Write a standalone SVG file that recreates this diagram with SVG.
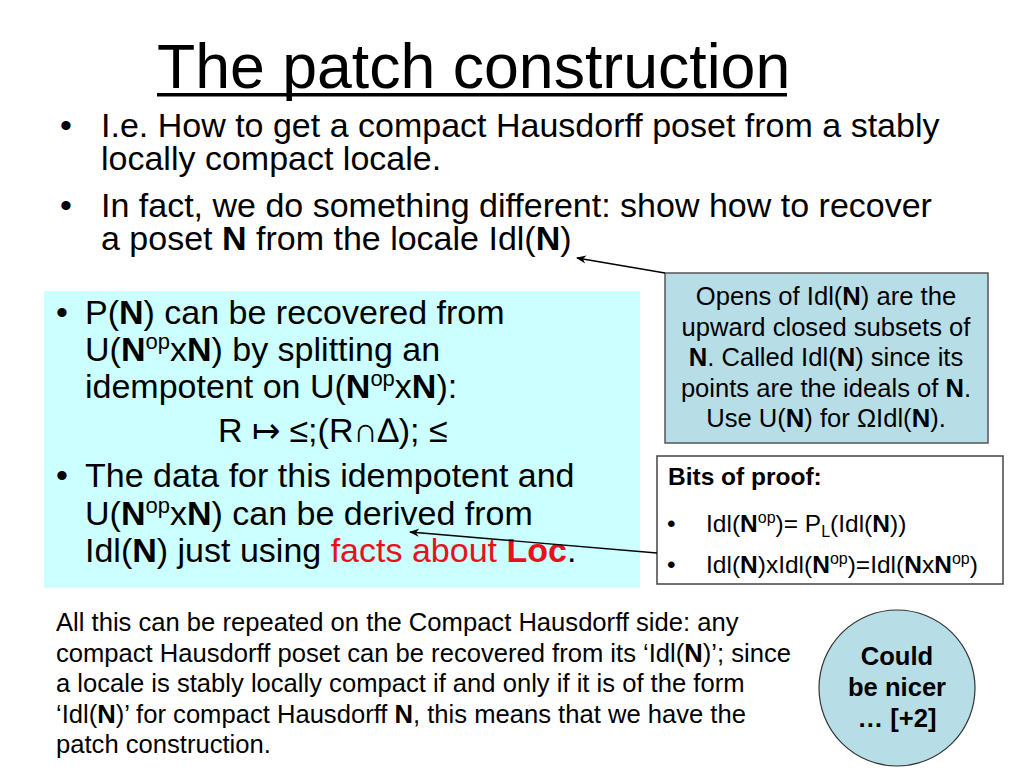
<svg xmlns="http://www.w3.org/2000/svg" width="1024" height="768" viewBox="0 0 1024 768">
<defs>
<style>
text{font-family:"Liberation Sans",Arial,sans-serif;fill:#000}
.title{font-size:62.6px}
.body{font-size:34px}
.sm{font-size:25.6px}
.bp{font-size:24.5px}
.b{font-weight:bold}
.red{fill:#E8101A}
.conn{stroke:#000;stroke-width:1.3;fill:none;marker-end:url(#arr)}
</style>
<marker id="arr" viewBox="0 0 10 10" refX="9" refY="5" markerWidth="10" markerHeight="10" markerUnits="userSpaceOnUse" orient="auto">
<path d="M0,1 L10,5 L0,9 L3,5 Z" fill="#000"/>
</marker>
</defs>
<rect width="1024" height="768" fill="#fff"/>

<g id="title">
<text class="title" x="157" y="88">The patch construction</text>
<rect x="157" y="93" width="630" height="3.5" fill="#000"/>
</g>

<g id="intro-bullets">
<text class="body" x="60" y="137">•</text>
<text class="body" x="101" y="137">I.e. How to get a compact Hausdorff poset from a stably</text>
<text class="body" x="101" y="170">locally compact locale.</text>
<text class="body" x="60" y="217">•</text>
<text class="body" x="101" y="217">In fact, we do something different: show how to recover</text>
<text class="body" x="101" y="250">a poset <tspan class="b">N</tspan> from the locale Idl(<tspan class="b">N</tspan>)</text>
</g>

<g id="cyan-box">
<rect x="44" y="291" width="596" height="297" fill="#CCFFFF"/>
<text class="body" x="56" y="324">•</text>
<text class="body" x="85" y="324">P(<tspan class="b">N</tspan>) can be recovered from</text>
<text class="body" x="85" y="361">U(<tspan class="b">N</tspan><tspan font-size="22" dy="-12">op</tspan><tspan dy="12">x</tspan><tspan class="b">N</tspan>) by splitting an</text>
<text class="body" x="85" y="398">idempotent on U(<tspan class="b">N</tspan><tspan font-size="22" dy="-12">op</tspan><tspan dy="12">x</tspan><tspan class="b">N</tspan>):</text>
<text class="body" x="218" y="442">R ↦ ≤;(R∩∆); ≤</text>
<text class="body" x="56" y="487">•</text>
<text class="body" x="85" y="487">The data for this idempotent and</text>
<text class="body" x="85" y="525">U(<tspan class="b">N</tspan><tspan font-size="22" dy="-12">op</tspan><tspan dy="12">x</tspan><tspan class="b">N</tspan>) can be derived from</text>
<text class="body" x="85" y="562">Idl(<tspan class="b">N</tspan>) just using <tspan class="red">facts about </tspan><tspan class="red b">Loc</tspan>.</text>
</g>

<g id="opens-box">
<rect x="665" y="273" width="323" height="170" fill="#B7DDE6" stroke="#555" stroke-width="1.5"/>
<text class="sm" x="826" y="305" text-anchor="middle">Opens of Idl(<tspan class="b">N</tspan>) are the</text>
<text class="sm" x="826" y="336" text-anchor="middle">upward closed subsets of</text>
<text class="sm" x="826" y="366" text-anchor="middle"><tspan class="b">N</tspan>. Called Idl(<tspan class="b">N</tspan>) since its</text>
<text class="sm" x="826" y="397" text-anchor="middle">points are the ideals of <tspan class="b">N</tspan>.</text>
<text class="sm" x="826" y="427" text-anchor="middle">Use U(<tspan class="b">N</tspan>) for ΩIdl(<tspan class="b">N</tspan>).</text>
</g>

<g id="proof-box">
<rect x="657" y="456" width="346" height="128" fill="#fff" stroke="#444" stroke-width="1.5"/>
<text class="bp b" x="668" y="485">Bits of proof:</text>
<text class="bp" x="667" y="532">•</text>
<text class="bp" x="706" y="532">Idl(<tspan class="b">N</tspan><tspan font-size="16" dy="-9">op</tspan><tspan dy="9">)= P</tspan><tspan font-size="16" dy="5">L</tspan><tspan dy="-5">(Idl(</tspan><tspan class="b">N</tspan>))</text>
<text class="bp" x="667" y="573">•</text>
<text class="bp" x="706" y="573">Idl(<tspan class="b">N</tspan>)xIdl(<tspan class="b">N</tspan><tspan font-size="16" dy="-9">op</tspan><tspan dy="9">)=Idl(</tspan><tspan class="b">N</tspan>x<tspan class="b">N</tspan><tspan font-size="16" dy="-9">op</tspan><tspan dy="9">)</tspan></text>
</g>

<g id="summary">
<text class="sm" x="56" y="631">All this can be repeated on the Compact Hausdorff side: any</text>
<text class="sm" x="56" y="662">compact Hausdorff poset can be recovered from its ‘Idl(<tspan class="b">N</tspan>)’; since</text>
<text class="sm" x="56" y="692">a locale is stably locally compact if and only if it is of the form</text>
<text class="sm" x="56" y="723">‘Idl(<tspan class="b">N</tspan>)’ for compact Hausdorff <tspan class="b">N</tspan>, this means that we have the</text>
<text class="sm" x="56" y="753">patch construction.</text>
</g>

<g id="nicer-ellipse">
<ellipse cx="897" cy="688" rx="78" ry="78" fill="#B7DDE6" stroke="#333" stroke-width="1.2"/>
<text class="sm b" x="897" y="665" text-anchor="middle">Could</text>
<text class="sm b" x="897" y="696" text-anchor="middle">be nicer</text>
<text class="sm b" x="897" y="727" text-anchor="middle">… [+2]</text>
</g>

<g id="connectors">
<line class="conn" x1="665" y1="273" x2="577" y2="258"/>
<line class="conn" x1="657" y1="553" x2="410" y2="532"/>
</g>
</svg>
